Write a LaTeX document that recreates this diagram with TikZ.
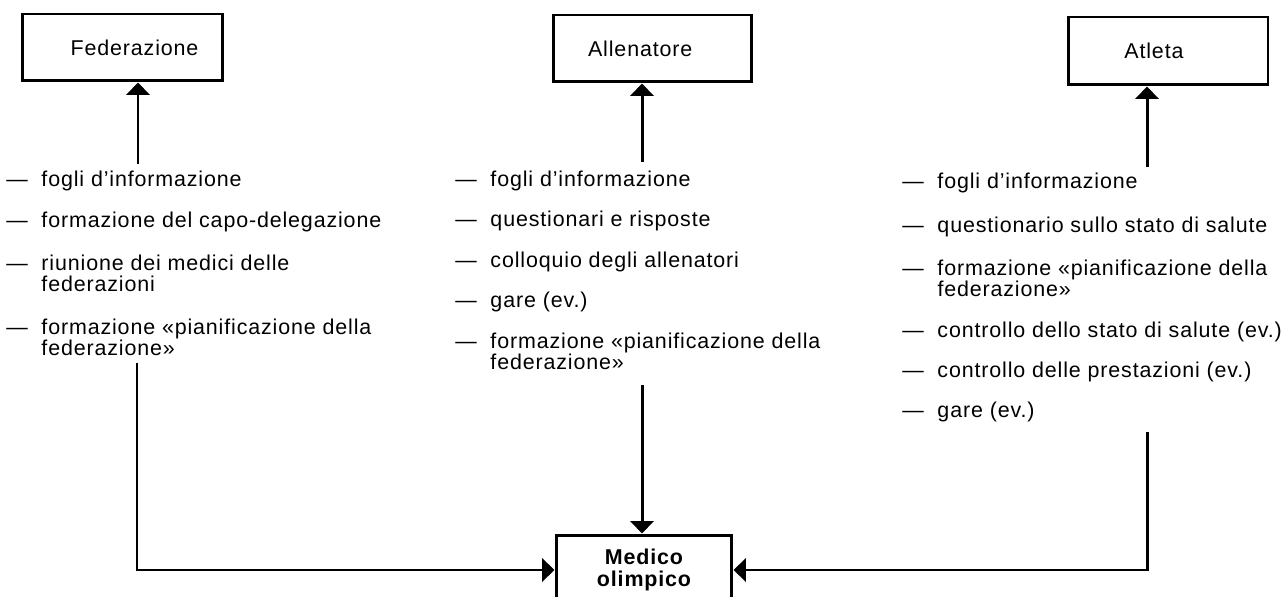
\documentclass[tikz,border=0pt]{standalone}
\usepackage{fontspec}
\setmainfont{Liberation Sans}[LetterSpace=4]
\usetikzlibrary{arrows.meta}
\newcommand{\dsh}{\makebox[20pt][l]{—}}
\newcommand{\ind}{\hspace*{20pt}}
\begin{document}
\begin{tikzpicture}[x=0.02cm,y=-0.02cm,
  every node/.style={font=\fontsize{12.2pt}{12.5pt}\selectfont},
  box/.style={draw, line width=1.7pt, inner sep=0pt, align=center},
  item/.style={anchor=base west, inner sep=0pt, align=left},
  link/.style={line width=1.7pt, -{Triangle[width=13pt,length=7pt]}}]
\useasboundingbox (0,0) rectangle (1288,597);

% boxes
\node[box, minimum width=4.02cm, minimum height=1.34cm] (fed) at (122.5,47.5) {\hspace*{13.7pt}Federazione};
\node[box, minimum width=3.98cm, minimum height=1.34cm] (all) at (652.5,48.5) {Allenatore\hspace*{14pt}};
\node[box, minimum width=4.00cm, minimum height=1.36cm] (atl) at (1168,51) {Atleta\hspace*{16pt}};
\node[box, minimum width=3.52cm, minimum height=1.40cm, font=\fontsize{12.2pt}{13pt}\selectfont\bfseries] (med) at (644,570) {Medico\\olimpico};

% left column (two-line items anchored on their last baseline)
\node[item] (l1) at (6,187) {\dsh fogli d’informazione};
\node[item] (l2) at (6,228) {\dsh formazione del capo-delegazione};
\node[item] (l3) at (6,292) {\dsh riunione dei medici delle\\\ind federazioni};
\node[item] (l4) at (6,356) {\dsh formazione «pianificazione della\\\ind federazione»};

% middle column
\node[item] (m1) at (455,187) {\dsh fogli d’informazione};
\node[item] (m2) at (455,227) {\dsh questionari e risposte};
\node[item] (m3) at (455,268) {\dsh colloquio degli allenatori};
\node[item] (m4) at (455,308) {\dsh gare (ev.)};
\node[item] (m5) at (455,370) {\dsh formazione «pianificazione della\\\ind federazione»};

% right column
\node[item] (r1) at (902,189) {\dsh fogli d’informazione};
\node[item] (r2) at (902,233) {\dsh questionario sullo stato di salute};
\node[item] (r3) at (902,297) {\dsh formazione «pianificazione della\\\ind federazione»};
\node[item] (r4) at (902,338) {\dsh controllo dello stato di salute (ev.)};
\node[item] (r5) at (902,378) {\dsh controllo delle prestazioni (ev.)};
\node[item] (r6) at (902,418) {\dsh gare (ev.)};

% connector ends
\coordinate (fu) at (138,164);
\coordinate (au) at (642,162);
\coordinate (tu) at (1147,167);
\coordinate (fd) at (137,363);
\coordinate (ad) at (642,385);
\coordinate (td) at (1147,432);

\draw[link] (fu) -- (fu |- fed.south);
\draw[link] (au) -- (au |- all.south);
\draw[link] (tu) -- (tu |- atl.south);
\draw[link] (fd) |- (med.west);
\draw[link] (ad) -- (ad |- med.north);
\draw[link] (td) |- (med.east);
\end{tikzpicture}
\end{document}
